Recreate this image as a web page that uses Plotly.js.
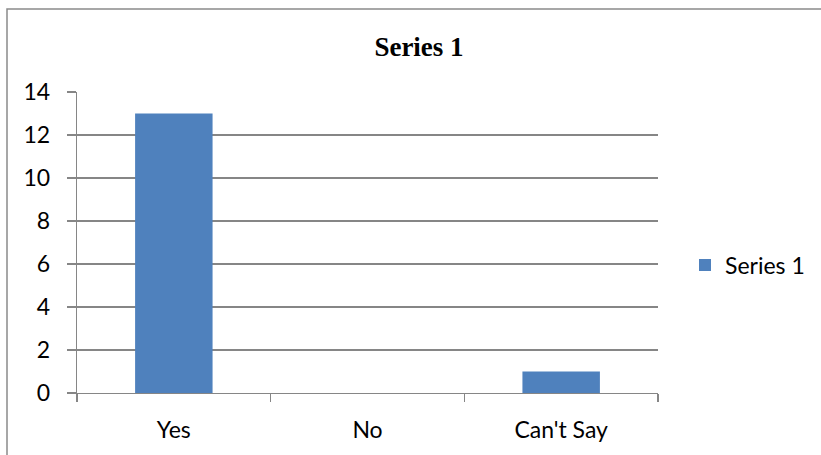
<!DOCTYPE html>
<html>
<head>
<meta charset="utf-8">
<script src="https://cdn.plot.ly/plotly-3.0.1.min.js"></script>
<style>html,body{margin:0;padding:0;background:#fff;}#chart{width:821px;height:455px;}</style>
</head>
<body>
<div id="chart"></div>
<script>
const categories = ["Yes", "No", "Can't Say"];
const seriesName = "Series 1";
const values = [13, 0, 1];
const yTicks = [0, 2, 4, 6, 8, 10, 12, 14];

const font = "Lato, 'Open Sans', sans-serif";
const trace = {
  type: 'bar', x: categories, y: values, name: seriesName,
  marker: {color: '#4f81bd'}, showlegend: true
};
const L = 77, T = 92, W = 581, H = 301;
const layout = {
  width: 821, height: 455,
  margin: {l: L, r: 821 - L - W, t: T, b: 455 - T - H, autoexpand: false},
  paper_bgcolor: '#fff', plot_bgcolor: '#fff',
  title: {text: '<b>Series 1</b>', font: {family: "'Liberation Serif', serif", size: 27, color: '#000'},
          x: 419 / 821, xanchor: 'center', y: 1 - 47 / 455, yanchor: 'middle', automargin: false},
  bargap: 0.6,
  xaxis: {type: 'category', showline: true, linecolor: '#868686', linewidth: 1.3, automargin: false,
          ticks: 'outside', tickson: 'boundaries', ticklen: 8, tickcolor: '#868686', tickwidth: 1.3,
          tickfont: {family: font, size: 23, color: '#000'}, showgrid: false, zeroline: false,
          ticklabelstandoff: 16},
  yaxis: {range: [0, 14], tickvals: yTicks, showline: true, linecolor: '#868686', linewidth: 1.3, automargin: false,
          ticks: 'outside', ticklen: 9, tickcolor: '#868686', tickwidth: 1.3,
          gridcolor: '#868686', gridwidth: 1.2, zeroline: false,
          tickfont: {family: font, size: 23, color: '#000'}, ticklabelstandoff: 12},
  legend: {x: (685 - L) / W, xanchor: 'left', y: (393 - 265) / H, yanchor: 'middle',
           font: {family: font, size: 23, color: '#000'}, itemwidth: 30},
  shapes: [{type: 'rect', xref: 'paper', yref: 'paper',
            x0: (7 - L) / W, x1: (900 - L) / W, y0: (393 - 500) / H, y1: (393 - 9) / H,
            line: {color: '#8a8a8a', width: 1.5}, fillcolor: 'rgba(0,0,0,0)', layer: 'below'}]
};
Plotly.newPlot('chart', [trace], layout, {displayModeBar: false, staticPlot: true});
</script>
</body>
</html>
